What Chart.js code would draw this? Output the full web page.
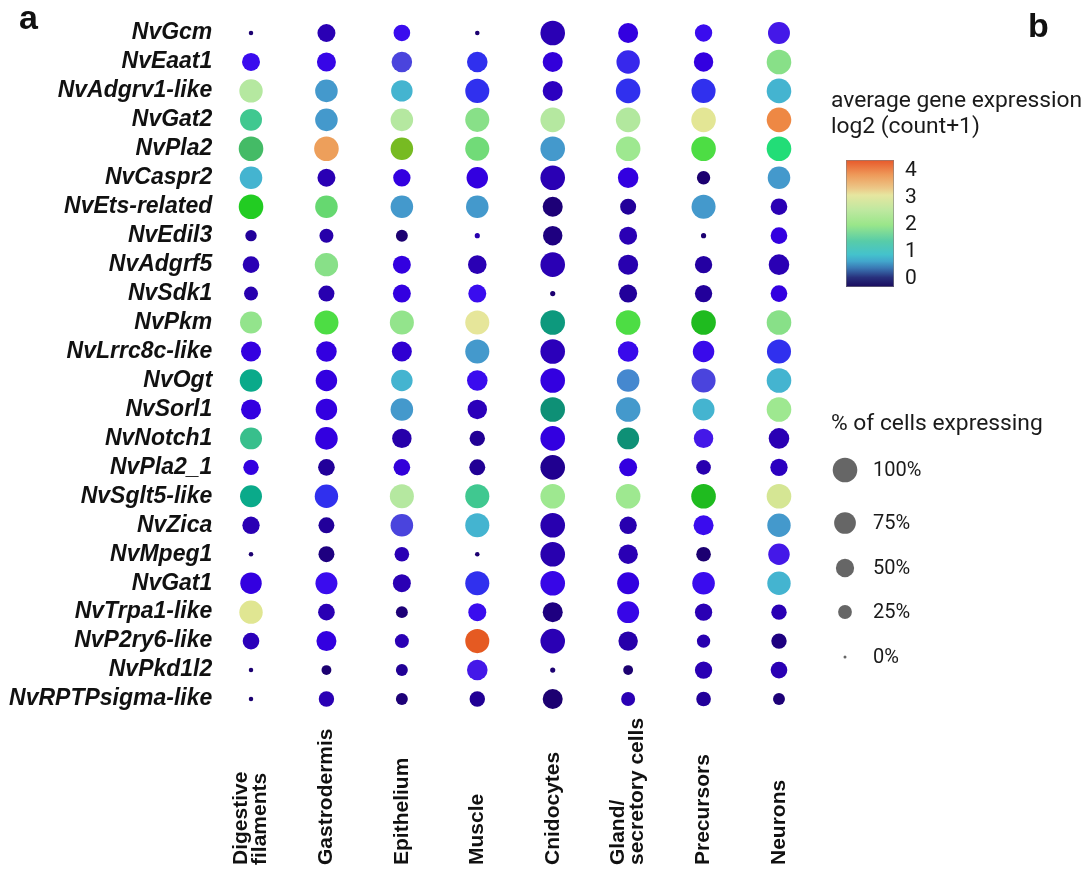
<!DOCTYPE html>
<html>
<head>
<meta charset="utf-8">
<script src="https://cdn.jsdelivr.net/npm/chart.js@4.4.1/dist/chart.umd.min.js"></script>
<style>
  html, body { margin: 0; padding: 0; background: #fff; }
  #wrap { width: 1089px; height: 873px; position: relative; }
</style>
</head>
<body>
<div id="wrap"><canvas id="dotplot"></canvas></div>
<script>
// Genes (rows, top to bottom)
const genes = [
  'NvGcm', 'NvEaat1', 'NvAdgrv1-like', 'NvGat2', 'NvPla2', 'NvCaspr2', 'NvEts-related',
  'NvEdil3', 'NvAdgrf5', 'NvSdk1', 'NvPkm', 'NvLrrc8c-like', 'NvOgt', 'NvSorl1',
  'NvNotch1', 'NvPla2_1', 'NvSglt5-like', 'NvZica', 'NvMpeg1', 'NvGat1',
  'NvTrpa1-like', 'NvP2ry6-like', 'NvPkd1l2', 'NvRPTPsigma-like'
];

// Cell types (columns); '\n' marks a line break in the axis label
const cellTypes = [
  'Digestive\nfilaments', 'Gastrodermis', 'Epithelium', 'Muscle',
  'Cnidocytes', 'Gland/\nsecretory cells', 'Precursors', 'Neurons'
];

// Average expression, log2(count+1), one value per gene
const exprDigestive  = [0.05, 0.6, 2.68, 1.68, 1.75, 1.15, 2.0, 0.22, 0.32, 0.3, 2.4, 0.5, 1.35, 0.5, 1.65, 0.5, 1.35, 0.32, 0.05, 0.5, 2.92, 0.35, 0.05, 0.05];
const exprGastro     = [0.32, 0.55, 1.05, 1.05, 3.55, 0.32, 2.2, 0.28, 2.35, 0.3, 2.07, 0.5, 0.5, 0.5, 0.5, 0.22, 0.75, 0.22, 0.12, 0.6, 0.32, 0.5, 0.05, 0.32];
const exprEpithelium = [0.6, 0.9, 1.15, 2.68, 2.12, 0.5, 1.05, 0.05, 0.5, 0.5, 2.4, 0.45, 1.15, 1.05, 0.28, 0.48, 2.68, 0.9, 0.32, 0.32, 0.08, 0.32, 0.2, 0.08];
const exprMuscle     = [0.05, 0.75, 0.75, 2.35, 2.25, 0.5, 1.05, 0.3, 0.32, 0.6, 3.0, 1.05, 0.6, 0.35, 0.2, 0.2, 1.68, 1.15, 0.05, 0.75, 0.6, 4.2, 0.66, 0.2];
const exprCnido      = [0.32, 0.48, 0.38, 2.68, 1.05, 0.32, 0.08, 0.12, 0.32, 0.05, 1.45, 0.35, 0.5, 1.5, 0.5, 0.18, 2.45, 0.3, 0.3, 0.55, 0.12, 0.32, 0.05, 0.05];
const exprGland      = [0.5, 0.72, 0.75, 2.65, 2.45, 0.5, 0.22, 0.32, 0.3, 0.22, 2.07, 0.58, 1.02, 1.05, 1.5, 0.5, 2.45, 0.3, 0.32, 0.5, 0.55, 0.28, 0.05, 0.32];
const exprPrecursors = [0.6, 0.5, 0.75, 2.95, 2.07, 0.05, 1.05, 0.05, 0.25, 0.22, 1.95, 0.58, 0.9, 1.15, 0.66, 0.3, 1.95, 0.6, 0.05, 0.6, 0.32, 0.3, 0.32, 0.22];
const exprNeurons    = [0.66, 2.35, 1.15, 3.7, 1.85, 1.05, 0.32, 0.5, 0.32, 0.5, 2.35, 0.75, 1.15, 2.45, 0.32, 0.38, 2.85, 1.05, 0.66, 1.15, 0.32, 0.12, 0.32, 0.08];

// Percentage of cells expressing, one value per gene
const pctDigestive  = [0.5, 48, 89, 77, 100, 82, 100, 15, 40, 26, 77, 62, 82, 62, 77, 33, 77, 44, 0.5, 73, 89, 40, 0.5, 0.5];
const pctGastro     = [48, 55, 82, 82, 100, 48, 82, 26, 89, 36, 95, 66, 73, 73, 82, 40, 89, 36, 36, 77, 40, 62, 10, 33];
const pctEpithelium = [40, 66, 73, 82, 82, 44, 82, 17, 48, 48, 95, 62, 73, 82, 58, 40, 95, 82, 29, 48, 17, 26, 17, 17];
const pctMuscle     = [0.5, 66, 95, 95, 95, 73, 82, 1, 52, 48, 95, 95, 66, 58, 33, 36, 95, 95, 0.5, 95, 48, 95, 66, 33];
const pctCnido      = [100, 62, 62, 100, 100, 100, 62, 58, 100, 1, 100, 100, 100, 100, 100, 100, 100, 100, 100, 100, 62, 100, 1, 62];
const pctGland      = [62, 89, 100, 100, 100, 66, 36, 48, 62, 48, 100, 66, 82, 100, 77, 48, 100, 44, 58, 77, 77, 58, 10, 26];
const pctPrecursors = [44, 58, 95, 100, 100, 23, 95, 1, 44, 44, 100, 73, 95, 77, 58, 29, 100, 62, 29, 82, 44, 23, 44, 29];
const pctNeurons    = [77, 100, 100, 100, 100, 82, 40, 40, 66, 40, 100, 95, 100, 100, 66, 44, 100, 89, 73, 89, 33, 33, 40, 17];

const exprByType = [exprDigestive, exprGastro, exprEpithelium, exprMuscle, exprCnido, exprGland, exprPrecursors, exprNeurons];
const pctByType  = [pctDigestive, pctGastro, pctEpithelium, pctMuscle, pctCnido, pctGland, pctPrecursors, pctNeurons];

// Legend keys
const colorbarTicks = [0, 1, 2, 3, 4];
const sizeKeys = [100, 75, 50, 25, 0];

// Colour ramp used for the dots (expression value -> colour)
const dotRamp = [
  [0.00, '#1a0066'], [0.12, '#1e0080'], [0.22, '#22009a'], [0.32, '#2a00b4'],
  [0.40, '#2c00c4'], [0.50, '#3300e0'], [0.60, '#3a0cee'], [0.66, '#4418e8'],
  [0.75, '#3030ee'], [0.90, '#4a44dd'], [1.05, '#4499cc'], [1.15, '#44b4d0'],
  [1.35, '#0aaa8a'], [1.50, '#0e9076'], [1.68, '#40c890'], [1.75, '#44bb66'],
  [1.85, '#22dd77'], [1.95, '#1fbb1f'], [2.00, '#22cc22'], [2.07, '#4ddd44'],
  [2.12, '#77bb22'], [2.20, '#66d870'], [2.35, '#88e088'], [2.45, '#9ee890'],
  [2.68, '#b5e8a0'], [2.90, '#dfe690'], [3.00, '#e6e69a'], [3.60, '#ee9955'],
  [3.70, '#ee8844'], [4.20, '#e55a22']
];

// Colour bar gradient
const barMin = -0.3, barMax = 4.4;
const barRamp = [
  [-0.3, '#1a0a5e'], [0.05, '#28307c'], [0.4, '#3a78b4'], [0.65, '#42a6cc'],
  [0.9, '#44c2cc'], [1.4, '#58cca8'], [2.0, '#9ae68a'], [2.55, '#bfe8a0'],
  [3.1, '#e6e6a0'], [3.35, '#ecc888'], [3.85, '#ee9a5a'], [4.4, '#e8582a']
];

function hexToRgb(h) {
  return [parseInt(h.slice(1, 3), 16), parseInt(h.slice(3, 5), 16), parseInt(h.slice(5, 7), 16)];
}
function rampColor(ramp, v) {
  if (v <= ramp[0][0]) return ramp[0][1];
  for (let i = 1; i < ramp.length; i++) {
    if (v <= ramp[i][0]) {
      const [v0, c0] = ramp[i - 1], [v1, c1] = ramp[i];
      const t = (v - v0) / (v1 - v0);
      const a = hexToRgb(c0), b = hexToRgb(c1);
      const m = a.map((x, k) => Math.round(x + (b[k] - x) * t));
      return `rgb(${m[0]},${m[1]},${m[2]})`;
    }
  }
  return ramp[ramp.length - 1][1];
}

// Dot radius in px from % of cells expressing
function radiusFor(pct) {
  return 1.5 + 10.8 * Math.sqrt(pct / 100);
}

const datasets = cellTypes.map((type, c) => ({
  label: type,
  data: genes.map((g, r) => ({ x: type, y: g, r: radiusFor(pctByType[c][r]), v: exprByType[c][r] })),
  backgroundColor: ctx => rampColor(dotRamp, ctx.raw.v),
  borderWidth: 0
}));

const FONT_SANS = '"Liberation Sans", Arial, Helvetica, sans-serif';
const FONT_LEGEND = 'Roboto, "Noto Sans", sans-serif';

const annotate = {
  id: 'annotate',
  afterDraw(chart) {
    const ctx = chart.ctx;
    const xs = chart.scales.x;
    ctx.save();

    // rotated cell-type labels, bottom aligned
    ctx.fillStyle = '#111';
    ctx.font = 'bold 21px ' + FONT_SANS;
    ctx.textAlign = 'left';
    ctx.textBaseline = 'middle';
    const labelBase = chart.height - 8;
    cellTypes.forEach((name, i) => {
      const lines = name.split('\n');
      const px = xs.getPixelForValue(i);
      ctx.save();
      ctx.translate(px, labelBase);
      ctx.rotate(-Math.PI / 2);
      lines.forEach((ln, k) => ctx.fillText(ln, 0, (k - (lines.length - 1) / 2) * 19));
      ctx.restore();
    });

    // panel letters
    ctx.font = 'bold 34px ' + FONT_SANS;
    ctx.textBaseline = 'alphabetic';
    ctx.fillText('a', 19, 29);
    ctx.fillText('b', 1028, 37);

    // colour bar legend
    ctx.fillStyle = '#1a1a1a';
    ctx.font = '22.8px ' + FONT_LEGEND;
    ctx.textBaseline = 'middle';
    ctx.fillText('average gene expression', 831, 101);
    ctx.fillText('log2 (count+1)', 831, 127);

    const bx = 846, bw = 48, bTop = 160, bBottom = 287;
    const yOf = v => bBottom - (v - barMin) / (barMax - barMin) * (bBottom - bTop);
    const grad = ctx.createLinearGradient(0, bBottom, 0, bTop);
    barRamp.forEach(([v, c]) => grad.addColorStop((v - barMin) / (barMax - barMin), c));
    ctx.fillStyle = grad;
    ctx.fillRect(bx, bTop, bw, bBottom - bTop);
    ctx.strokeStyle = 'rgba(130,130,130,0.6)';
    ctx.lineWidth = 1;
    ctx.strokeRect(bx + 0.5, bTop + 0.5, bw - 1, bBottom - bTop - 1);

    ctx.fillStyle = '#1a1a1a';
    ctx.font = '21px ' + FONT_LEGEND;
    colorbarTicks.forEach(v => ctx.fillText(String(v), 905, yOf(v)));

    // dot size legend
    ctx.font = '22.8px ' + FONT_LEGEND;
    ctx.fillText('% of cells expressing', 831, 424);
    const keyY = [470, 523, 568, 612, 657];
    ctx.font = '20px ' + FONT_LEGEND;
    sizeKeys.forEach((p, k) => {
      ctx.beginPath();
      ctx.fillStyle = '#666';
      ctx.arc(845, keyY[k], radiusFor(p), 0, Math.PI * 2);
      ctx.fill();
      ctx.fillStyle = '#1a1a1a';
      ctx.fillText(p + '%', 873, keyY[k] + 1);
    });

    ctx.restore();
  }
};

new Chart(document.getElementById('dotplot'), {
  type: 'bubble',
  data: { datasets },
  plugins: [annotate],
  options: {
    responsive: true,
    maintainAspectRatio: false,
    animation: false,
    events: [],
    layout: { padding: { left: 0, top: 18.5, right: 272.3, bottom: 0 } },
    plugins: { legend: { display: false }, tooltip: { enabled: false } },
    scales: {
      x: {
        type: 'category',
        labels: cellTypes,
        offset: true,
        grid: { display: false },
        border: { display: false },
        ticks: { display: false },
        afterFit: s => { s.height = 159.5; }
      },
      y: {
        type: 'category',
        labels: genes,
        offset: true,
        grid: { display: false, drawTicks: false },
        border: { display: false },
        ticks: {
          autoSkip: false,
          padding: 1,
          color: '#111',
          font: { family: FONT_SANS, size: 23, style: 'italic', weight: 'bold' }
        },
        afterFit: s => { s.width = 213.3; }
      }
    }
  }
});
</script>
</body>
</html>
